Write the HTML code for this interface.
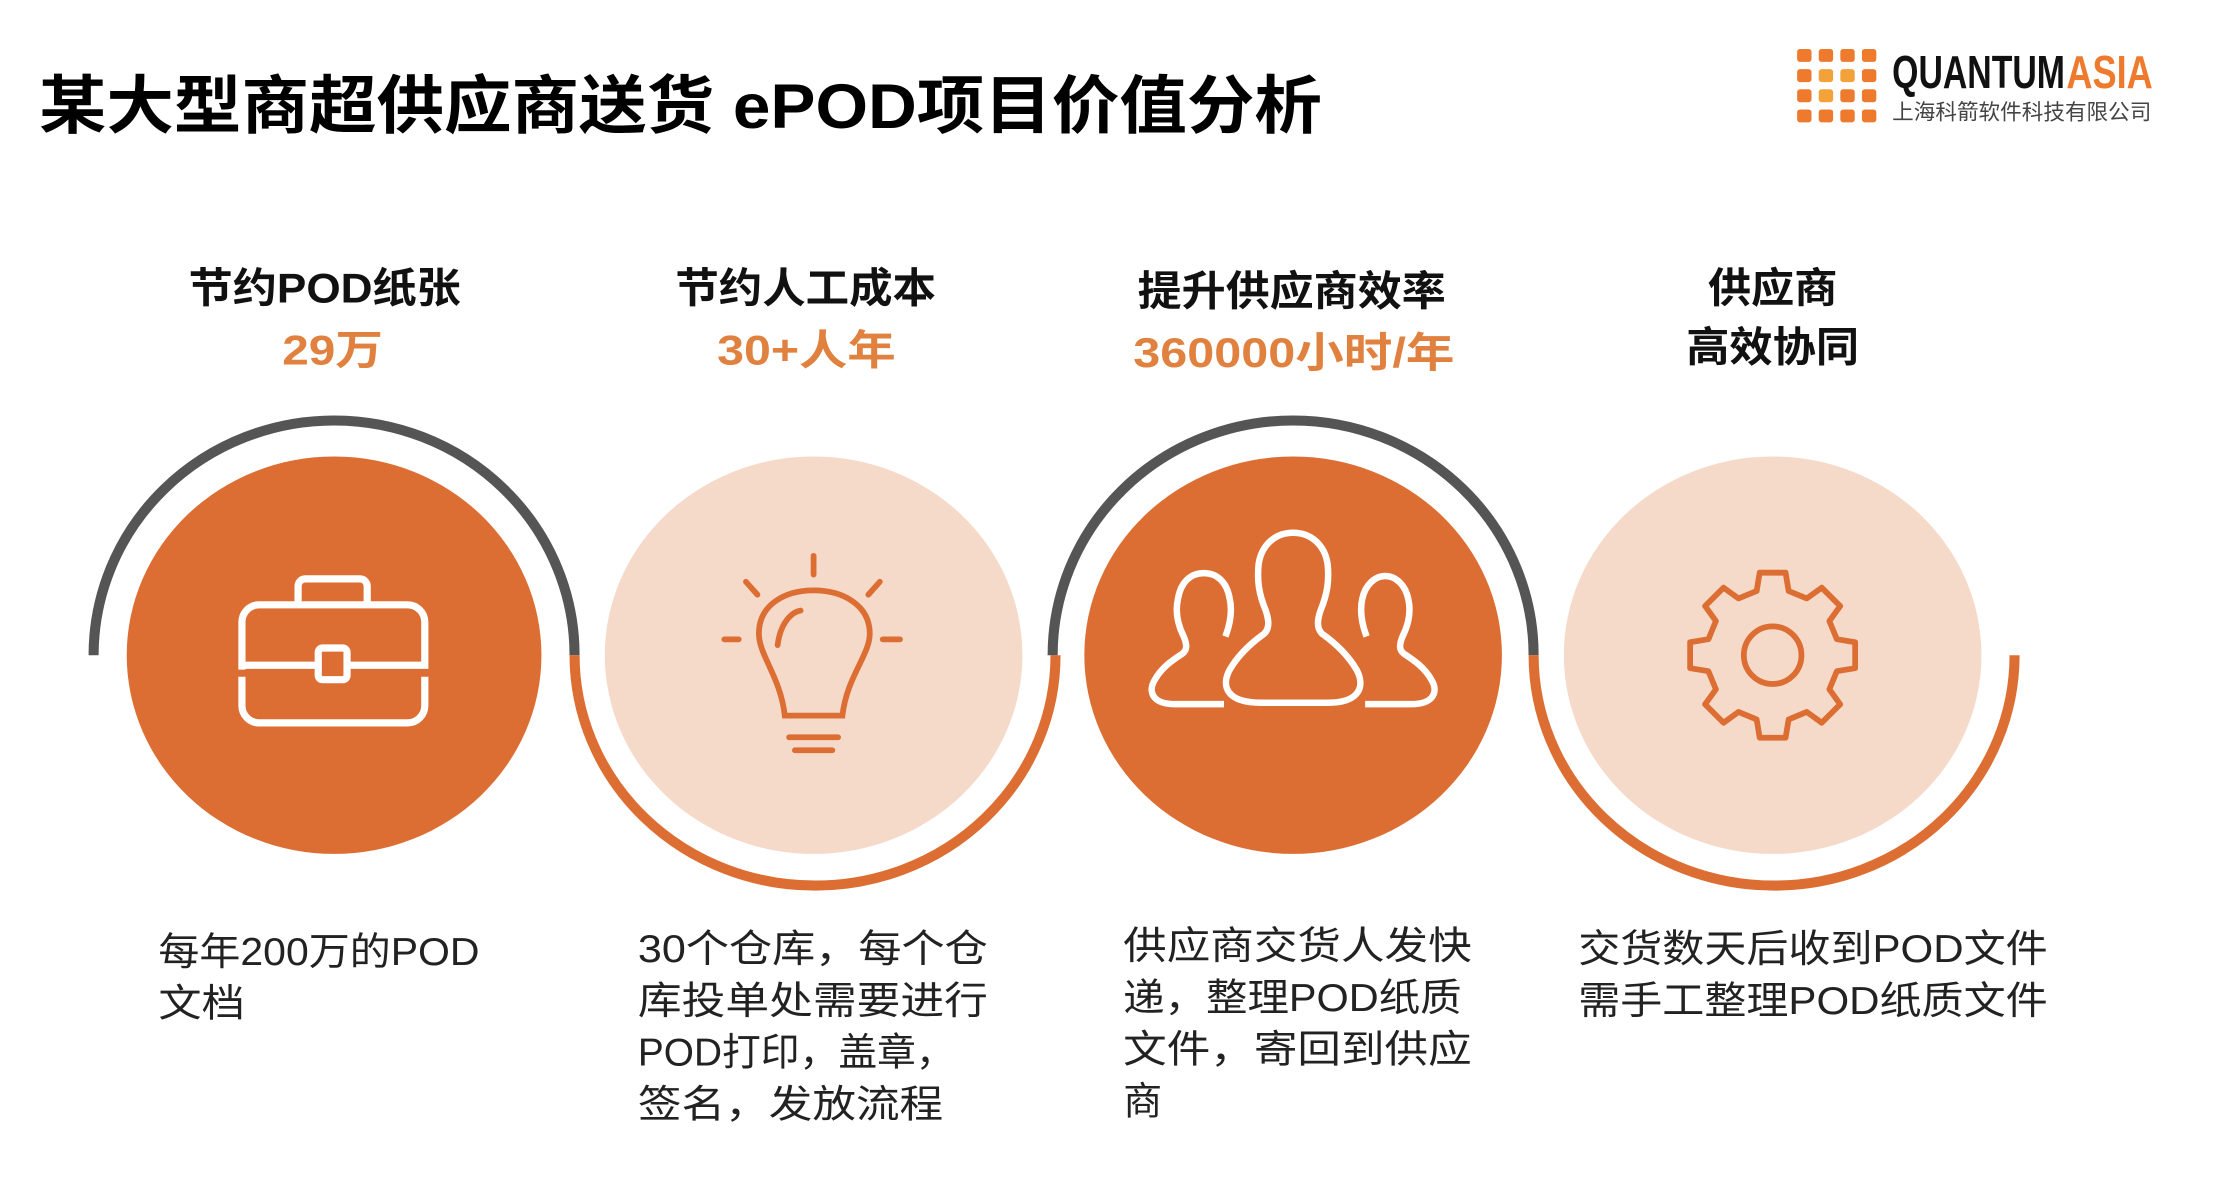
<!DOCTYPE html>
<html><head><meta charset="utf-8"><style>
html,body{margin:0;padding:0;background:#fff;}
svg{display:block;}
text{font-family:"Liberation Sans","Noto Sans CJK SC",sans-serif;}
</style></head><body>
<svg width="2232" height="1188" viewBox="0 0 1550 825" xmlns="http://www.w3.org/2000/svg">
<rect width="1550" height="825" fill="#fff"/>
<text x="27" y="89" font-size="44" font-weight="bold" fill="#000" textLength="891" lengthAdjust="spacingAndGlyphs">某大型商超供应商送货 ePOD项目价值分析</text>

<!-- logo -->
<g fill="#EE7A2E">
<rect x="1248" y="34" width="10" height="9" rx="2"/><rect x="1263" y="34" width="10" height="9" rx="2"/><rect x="1278" y="34" width="10" height="9" rx="2"/><rect x="1293" y="34" width="10" height="9" rx="2"/>
<rect x="1248" y="48" width="10" height="9" rx="2"/><rect x="1263" y="48" width="10" height="9" rx="2" fill="#F3A23A"/><rect x="1278" y="48" width="10" height="9" rx="2" fill="#F3A23A"/><rect x="1293" y="48" width="10" height="9" rx="2"/>
<rect x="1248" y="62" width="10" height="9" rx="2"/><rect x="1263" y="62" width="10" height="9" rx="2" fill="#F3A23A"/><rect x="1278" y="62" width="10" height="9" rx="2"/><rect x="1293" y="62" width="10" height="9" rx="2"/>
<rect x="1248" y="76" width="10" height="9" rx="2"/><rect x="1263" y="76" width="10" height="9" rx="2"/><rect x="1278" y="76" width="10" height="9" rx="2"/><rect x="1293" y="76" width="10" height="9" rx="2"/>
</g>
<text x="1314" y="61" font-size="32" font-weight="bold" fill="#111" textLength="120" lengthAdjust="spacingAndGlyphs">QUANTUM</text>
<text x="1435" y="61" font-size="32" font-weight="bold" fill="#EE7A2E" textLength="60" lengthAdjust="spacingAndGlyphs">ASIA</text>
<text x="1314" y="83" font-size="15" fill="#444" textLength="180" lengthAdjust="spacingAndGlyphs">上海科箭软件科技有限公司</text>

<!-- headings -->
<g font-size="29" font-weight="bold">
<text x="131" y="210" fill="#111" textLength="189" lengthAdjust="spacingAndGlyphs">节约POD纸张</text>
<text x="196" y="253" fill="#E0813F" textLength="70" lengthAdjust="spacingAndGlyphs">29万</text>
<text x="469" y="210" fill="#111" textLength="181" lengthAdjust="spacingAndGlyphs">节约人工成本</text>
<text x="498" y="253" fill="#E0813F" textLength="124" lengthAdjust="spacingAndGlyphs">30+人年</text>
<text x="790" y="212" fill="#111" textLength="214" lengthAdjust="spacingAndGlyphs">提升供应商效率</text>
<text x="787" y="255" fill="#E0813F" textLength="223" lengthAdjust="spacingAndGlyphs">360000小时/年</text>
<text x="1186" y="210" fill="#111" textLength="90" lengthAdjust="spacingAndGlyphs">供应商</text>
<text x="1171" y="251" fill="#111" textLength="120" lengthAdjust="spacingAndGlyphs">高效协同</text>
</g>

<!-- arcs -->
<g fill="none" stroke-width="7">
<path d="M65 455 A167 163 0 0 1 399 455" stroke="#555"/>
<path d="M399 455 A167 160 0 0 0 733 455" stroke="#DD6E33"/>
<path d="M731 455 A167 163 0 0 1 1065 455" stroke="#555"/>
<path d="M1065 455 A167 160 0 0 0 1399 455" stroke="#DD6E33"/>
</g>

<!-- circles -->
<ellipse cx="232" cy="455" rx="144" ry="138" fill="#DD6E33"/>
<ellipse cx="565" cy="455" rx="145" ry="138" fill="#F5D9C9"/>
<ellipse cx="898" cy="455" rx="145" ry="138" fill="#DD6E33"/>
<ellipse cx="1231" cy="455" rx="145" ry="138" fill="#F5D9C9"/>

<!-- briefcase -->
<g fill="none" stroke="#fff" stroke-width="5">
<path d="M207 420 V407 a5 5 0 0 1 5 -5 H250 a5 5 0 0 1 5 5 V420"/>
<path d="M168 465 V432 a12 12 0 0 1 12 -12 H283 a12 12 0 0 1 12 12 V462 H242"/>
<path d="M220 462 H168"/>
<path d="M168 470 V490 a12 12 0 0 0 12 12 H283 a12 12 0 0 0 12 -12 V470"/>
<rect x="221" y="450" width="20" height="22" rx="3"/>
</g>

<!-- bulb -->
<g fill="none" stroke="#DD6E33" stroke-width="4" stroke-linecap="round">
<line x1="565" y1="386" x2="565" y2="399"/>
<line x1="518" y1="404" x2="526" y2="413"/>
<line x1="611" y1="404" x2="603" y2="413"/>
<line x1="503" y1="444" x2="513" y2="444"/>
<line x1="613" y1="444" x2="625" y2="444"/>
<path d="M545 497 C542 470 527 455 527 440 C527 420 545 410 565 410 C585 410 604 420 604 440 C604 455 588 470 585 497 Z"/>
<path d="M540 448 C542 432 550 425 556 424"/>
<line x1="548" y1="512" x2="582" y2="512"/>
<line x1="552" y1="521" x2="578" y2="521"/>
</g>

<!-- people -->
<g fill="none" stroke="#fff" stroke-width="4.5" stroke-linejoin="round">
<path d="M876 488 H922 C945 488 948 476 942 465 C935 453 925 445 918 440 C914 436 915 430 917 424 C922 412 923 403 922 392 C920 378 910 370 898 370 C886 370 876 378 874 392 C873 403 874 412 879 424 C881 430 882 436 878 440 C871 445 861 453 854 465 C848 476 851 488 876 488 Z"/>
<path d="M850 489 H816 C800 489 797 480 802 472 C807 463 815 458 821 454 C825 451 824 447 822 442 C818 434 816 425 818 416 C820 404 827 398 836 398 C845 398 852 404 854 416 C856 425 854 434 851 442"/>
<path d="M948 489 H980 C996 489 999 480 994 472 C989 463 981 458 975 454 C971 451 972 447 974 442 C978 434 980 425 978 416 C976 406 969 400 962 400 C955 400 948 406 946 416 C944 425 946 434 949 442"/>
</g>

<!-- gear -->
<g transform="translate(1231,455)" fill="none" stroke="#DD6E33" stroke-width="4" stroke-linejoin="round">
<polygon points="44.6,-11.1 57.3,-9 57.3,9 44.6,11.1 39.4,23.7 46.9,34.1 34.1,46.9 23.7,39.4 11.1,44.6 9,57.3 -9,57.3 -11.1,44.6 -23.7,39.4 -34.1,46.9 -46.9,34.1 -39.4,23.7 -44.6,11.1 -57.3,9 -57.3,-9 -44.6,-11.1 -39.4,-23.7 -46.9,-34.1 -34.1,-46.9 -23.7,-39.4 -11.1,-44.6 -9,-57.3 9,-57.3 11.1,-44.6 23.7,-39.4 34.1,-46.9 46.9,-34.1 39.4,-23.7"/>
<circle cx="0" cy="0" r="20"/>
</g>

<!-- descriptions -->
<g font-size="27" fill="#222" lengthAdjust="spacingAndGlyphs">
<text x="110" y="670" textLength="223" lengthAdjust="spacingAndGlyphs">每年200万的POD</text>
<text x="110" y="706" textLength="60" lengthAdjust="spacingAndGlyphs">文档</text>
<text x="443" y="668" textLength="243" lengthAdjust="spacingAndGlyphs">30个仓库，每个仓</text>
<text x="443" y="704" textLength="243" lengthAdjust="spacingAndGlyphs">库投单处需要进行</text>
<text x="443" y="740" textLength="220" lengthAdjust="spacingAndGlyphs">POD打印，盖章，</text>
<text x="443" y="776" textLength="212" lengthAdjust="spacingAndGlyphs">签名，发放流程</text>
<text x="780" y="666" textLength="242" lengthAdjust="spacingAndGlyphs">供应商交货人发快</text>
<text x="780" y="702" textLength="235" lengthAdjust="spacingAndGlyphs">递，整理POD纸质</text>
<text x="780" y="738" textLength="242" lengthAdjust="spacingAndGlyphs">文件，寄回到供应</text>
<text x="780" y="774">商</text>
<text x="1096" y="668" textLength="326" lengthAdjust="spacingAndGlyphs">交货数天后收到POD文件</text>
<text x="1096" y="704" textLength="326" lengthAdjust="spacingAndGlyphs">需手工整理POD纸质文件</text>
</g>
</svg>
</body></html>
